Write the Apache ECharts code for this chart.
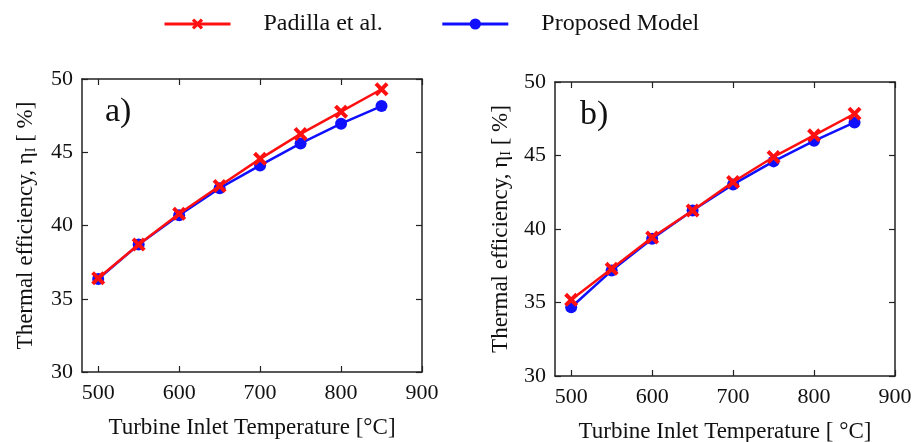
<!DOCTYPE html>
<html>
<head>
<meta charset="utf-8">
<script src="https://cdn.jsdelivr.net/npm/echarts@6/dist/echarts.min.js"></script>
<style>
html, body { margin: 0; padding: 0; background: #fff; }
#chart { width: 912px; height: 442px; }
</style>
</head>
<body>
<div id="chart"></div>
<script>
// turbine inlet temperature [°C]
const temps = [500, 550, 600, 650, 700, 750, 800, 850]
// panel a)
const padillaA = [36.4, 38.7, 40.8, 42.7, 44.55, 46.25, 47.77, 49.3]
const modelA = [36.35, 38.7, 40.7, 42.55, 44.1, 45.6, 46.95, 48.15]
// panel b)
const padillaB = [35.18, 37.29, 39.42, 41.26, 43.2, 44.9, 46.37, 47.84]
const modelB = [34.68, 37.17, 39.33, 41.26, 43.03, 44.6, 46.0, 47.25]
const xTicks = [500, 600, 700, 800, 900]
const yTicks = [30, 35, 40, 45, 50]

const font = 'Liberation Serif'
const crossPath = 'path://M0,2 L2,0 L5,3 L8,0 L10,2 L7,5 L10,8 L8,10 L5,7 L2,10 L0,8 L3,5 Z'

const pair = (xs, ys) => xs.map((x, i) => [x, ys[i]])

function xAx(grid, pos, show, nameGap) {
    return {
        type: 'value', gridIndex: grid, position: pos,
        min: 480, max: 900,
        name: show ? 'Turbine Inlet Temperature [' + (grid ? ' ' : '') + '°C]' : '',
        nameLocation: 'middle', nameGap: nameGap,
        nameTextStyle: { fontFamily: font, fontSize: 23, color: '#111' },
        axisLine: { show: true, onZero: false, lineStyle: { color: '#222', width: 1.5 } },
        axisTick: { show: true, inside: true, length: 6, customValues: xTicks, lineStyle: { color: '#222', width: 1.2 } },
        axisLabel: { show: show, customValues: xTicks, margin: 10, fontFamily: font, fontSize: 22, color: '#111' },
        splitLine: { show: false }
    }
}

function yAx(grid, pos, show, nameGap) {
    return {
        type: 'value', gridIndex: grid, position: pos,
        min: 30, max: 50,
        name: show ? 'Thermal efficiency, η{sub|I} [ %]' : '',
        nameLocation: 'middle', nameGap: nameGap,
        nameTextStyle: {
            fontFamily: font, fontSize: 23, color: '#111',
            rich: { sub: { fontFamily: font, fontSize: 14, color: '#111', verticalAlign: 'bottom', padding: [10, 0, 0, 0] } }
        },
        axisLine: { show: true, onZero: false, lineStyle: { color: '#222', width: 1.5 } },
        axisTick: { show: true, inside: true, length: 6, customValues: yTicks, lineStyle: { color: '#222', width: 1.2 } },
        axisLabel: { show: show, customValues: yTicks, margin: 9, fontFamily: font, fontSize: 22, color: '#111' },
        splitLine: { show: false }
    }
}

function red(name, grid, data) {
    return {
        name: name, type: 'line', xAxisIndex: grid * 2, yAxisIndex: grid * 2,
        data: data, symbol: crossPath, symbolSize: 14, z: 3,
        lineStyle: { color: '#ff1010', width: 2.5 }, itemStyle: { color: '#ff1010' }
    }
}
function blue(name, grid, data) {
    return {
        name: name, type: 'line', xAxisIndex: grid * 2, yAxisIndex: grid * 2,
        data: data, symbol: 'circle', symbolSize: 12, z: 2,
        lineStyle: { color: '#1010ff', width: 2.5 }, itemStyle: { color: '#1010ff' }
    }
}

const myChart = echarts.init(document.getElementById('chart'))
const option = {
    backgroundColor: '#fff',
    animation: false,
    legend: {
        left: 158, top: 7,
        itemWidth: 66, itemHeight: 14, itemGap: 58,
        lineStyle: { width: 3 },
        textStyle: { fontFamily: font, fontSize: 24, color: '#111', padding: [0, 0, 0, 28] },
        data: ['Padilla et al.', 'Proposed Model']
    },
    title: [
        { text: 'a)', left: 100, top: 90, textStyle: { fontFamily: font, fontSize: 34, fontWeight: 'normal', color: '#111' } },
        { text: 'b)', left: 575, top: 93, textStyle: { fontFamily: font, fontSize: 34, fontWeight: 'normal', color: '#111' } }
    ],
    grid: [
        { left: 82, top: 79, width: 340, height: 293, outerBoundsMode: 'none' },
        { left: 555, top: 82, width: 340, height: 294, outerBoundsMode: 'none' }
    ],
    xAxis: [xAx(0, 'bottom', true, 44), xAx(0, 'top', false, 0), xAx(1, 'bottom', true, 44), xAx(1, 'top', false, 0)],
    yAxis: [yAx(0, 'left', true, 44), yAx(0, 'right', false, 0), yAx(1, 'left', true, 42), yAx(1, 'right', false, 0)],
    series: [
        blue('Proposed Model', 0, pair(temps, modelA)),
        red('Padilla et al.', 0, pair(temps, padillaA)),
        blue('Proposed Model', 1, pair(temps, modelB)),
        red('Padilla et al.', 1, pair(temps, padillaB))
    ]
}
myChart.setOption(option)
</script>
</body>
</html>
